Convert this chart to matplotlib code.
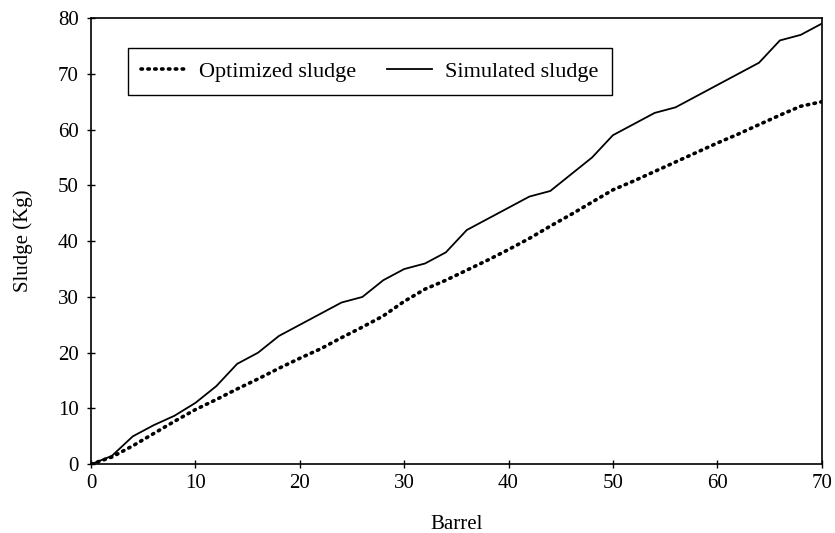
import matplotlib
matplotlib.use("Agg")
import matplotlib.pyplot as plt

barrel = [0, 2, 4, 6, 8, 10, 12, 14, 16, 18, 20, 22, 24, 26, 28, 30, 32, 34,
          36, 38, 40, 42, 44, 46, 48, 50, 52, 54, 56, 58, 60, 62, 64, 66, 68, 70]
simulated = [0, 1.5, 5, 7, 8.7, 11, 14, 18, 20, 23, 25, 27, 29, 30, 33, 35, 36, 38,
             42, 44, 46, 48, 49, 52, 55, 59, 61, 63, 64, 66, 68, 70, 72, 76, 77, 79]
optimized = [0, 1.3, 3.3, 5.5, 7.7, 9.8, 11.6, 13.5, 15.3, 17.2, 19, 20.7, 22.7, 24.6,
             26.6, 29.2, 31.4, 33, 34.8, 36.6, 38.5, 40.5, 42.7, 44.8, 47, 49.2, 50.8,
             52.5, 54.2, 55.9, 57.6, 59.2, 60.9, 62.6, 64.2, 65]

plt.rcParams['font.family'] = ['Liberation Serif', 'DejaVu Serif']

fig = plt.figure(figsize=(8.35, 5.33), dpi=100)
ax = fig.add_axes([0.109, 0.129, 0.875, 0.837])

ax.plot(barrel, optimized, color='black', linestyle=(0, (0.4, 1.5)), linewidth=2.6,
        dash_capstyle='round', label='Optimized sludge')
ax.plot(barrel, simulated, color='black', linestyle='-', linewidth=1.3,
        label='Simulated sludge')

ax.set_xlim(0, 70)
ax.set_ylim(0, 80)
ax.set_xticks(range(0, 71, 10))
ax.set_yticks(range(0, 81, 10))
ax.tick_params(direction='inout', length=6, width=1, labelsize=15, colors='black')
ax.tick_params(axis='x', pad=4)
ax.tick_params(axis='y', pad=6)
for s in ax.spines.values():
    s.set_linewidth(1.2)
ax.set_xlabel('Barrel', fontsize=15, labelpad=16)
ax.set_ylabel('Sludge (Kg)', fontsize=15, labelpad=18)

leg = ax.legend(loc='upper left', bbox_to_anchor=(0.0506, 0.933), ncol=2,
                fontsize=16, frameon=True, fancybox=False, edgecolor='black',
                framealpha=1, handlelength=2.0, columnspacing=1.4,
                borderpad=0.6, handletextpad=0.6, borderaxespad=0)
leg.get_frame().set_linewidth(1.0)

fig.savefig('out.png', dpi=100)
